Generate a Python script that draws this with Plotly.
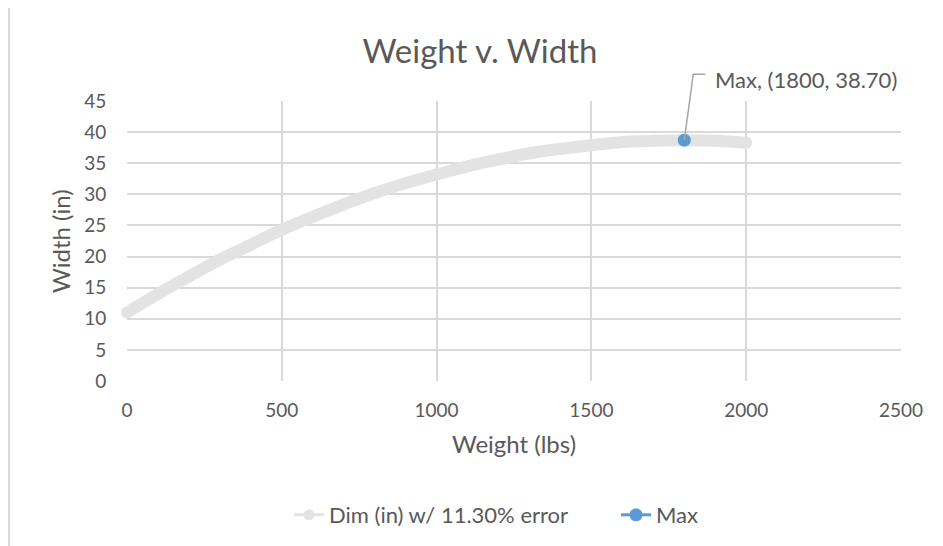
import plotly.graph_objects as go

weight_lbs = [0, 100, 200, 300, 400, 500, 600, 700, 800, 900, 1000,
              1100, 1200, 1300, 1400, 1500, 1600, 1700, 1800, 1900, 2000]
width_in = [11.0, 14.0, 16.8, 19.5, 21.9, 24.3, 26.4, 28.4, 30.2, 31.8, 33.2,
            34.5, 35.6, 36.6, 37.3, 37.9, 38.4, 38.6, 38.7, 38.6, 38.3]
max_weight = [1800]
max_width = [38.70]

series_name = "Dim (in) w/ 11.30% error"
max_name = "Max"
title_text = "Weight v. Width"
x_title = "Weight (lbs)"
y_title = "Width (in)"
x_range = [0, 2500]
y_range = [0, 45]

FONT = "Lato"
TXT = "#595959"
GRID = "#d9d9d9"
GRAY = "#e3e3e3"
BLUE = "#5b9bd5"

fig = go.Figure()
fig.add_trace(go.Scatter(
    x=weight_lbs, y=width_in, name=series_name, mode="lines+markers",
    line=dict(color=GRAY, width=12, shape="spline"),
    marker=dict(color=GRAY, size=12), showlegend=False, cliponaxis=False,
))
# legend entry showing thin line + marker, as in the reference legend
fig.add_trace(go.Scatter(
    x=[None], y=[None], name=series_name, mode="lines+markers",
    line=dict(color=GRAY, width=3), marker=dict(color=GRAY, size=11),
))
fig.add_trace(go.Scatter(
    x=max_weight, y=max_width, name=max_name, mode="lines+markers",
    marker=dict(color=BLUE, size=13), line=dict(color=BLUE, width=3), cliponaxis=False,
))

label = f"Max, ({max_weight[0]}, {max_width[0]:.2f})"
fig.add_annotation(
    x=max_weight[0], y=max_width[0], text=label, showarrow=False,
    xanchor="left", yanchor="middle", xshift=29, yshift=61,
    font=dict(family=FONT, size=22, color=TXT),
)
# y-axis title
fig.add_annotation(
    x=0, y=0.5, xref="paper", yref="paper", text=y_title, showarrow=False,
    textangle=-90, xanchor="center", yanchor="middle", xshift=-67,
    font=dict(family=FONT, size=24, color=TXT),
)
# leader line (paper-referenced so it is not clipped to the plot area)
px = (max_weight[0] - x_range[0]) / (x_range[1] - x_range[0])
py = (max_width[0] - y_range[0]) / (y_range[1] - y_range[0])
fig.add_shape(
    type="path", xref="paper", yref="paper", xsizemode="pixel", ysizemode="pixel",
    xanchor=px, yanchor=py,
    path="M0,0 L9,66 L21,66", line=dict(color="#a6a6a6", width=1.5),
)
# chart-area border
fig.add_shape(
    type="rect", xref="paper", yref="paper",
    x0=-0.1525, x1=1.07, y0=-0.62, y1=1.3357,
    line=dict(color="#d9d9d9", width=2), layer="below",
)

fig.update_layout(
    width=943, height=546,
    margin=dict(l=119, r=50, t=93, b=173, autoexpand=False),
    paper_bgcolor="white", plot_bgcolor="white",
    title=dict(text=title_text, x=472 / 943, xref="container", xanchor="center",
               y=1 - 43 / 546, yref="container", yanchor="middle",
               font=dict(family=FONT, size=33, color=TXT)),
    font=dict(family=FONT, size=19, color=TXT),
    showlegend=True,
    legend=dict(orientation="h", x=281 / 943, xanchor="left", xref="container",
                y=(381 - 515) / 280, yanchor="middle", itemwidth=30,
                entrywidth=282, entrywidthmode="pixels",
                font=dict(family=FONT, size=22, color=TXT)),
)
fig.update_xaxes(range=x_range, dtick=500, tick0=0, showgrid=True, gridcolor=GRID,
                 gridwidth=2, zeroline=False, showline=False,
                 ticks="outside", ticklen=12, tickcolor="rgba(0,0,0,0)", automargin=False,
                 title=dict(text=x_title, font=dict(family=FONT, size=24, color=TXT), standoff=16),
                 tickfont=dict(family=FONT, size=19, color=TXT))
fig.update_yaxes(range=y_range, dtick=5, tick0=0, showgrid=True, gridcolor=GRID,
                 gridwidth=2, zeroline=False, showline=False,
                 ticks="outside", ticklen=16, tickcolor="rgba(0,0,0,0)", automargin=False,
                 tickfont=dict(family=FONT, size=19, color=TXT))

fig.write_html("out.html")
